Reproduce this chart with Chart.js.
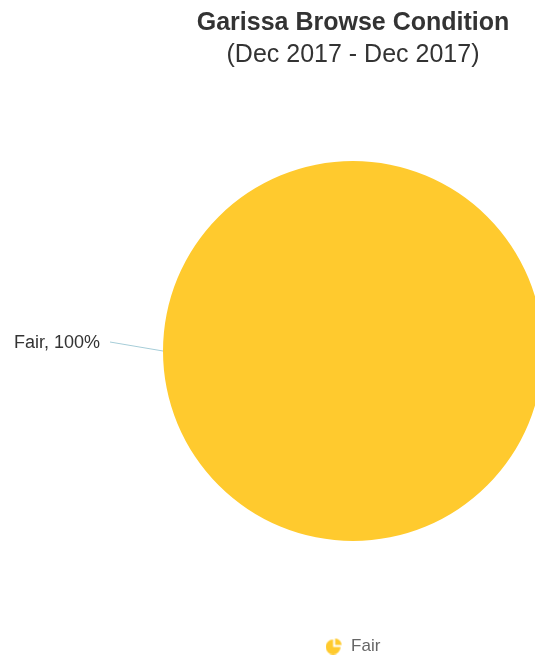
<!DOCTYPE html>
<html>
<head>
<meta charset="utf-8">
<script src="https://cdn.jsdelivr.net/npm/chart.js@4/dist/chart.umd.min.js"></script>
<style>
  html, body { margin: 0; padding: 0; background: #fff; overflow: hidden; }
  #wrap { width: 543px; height: 658px; position: relative; }
</style>
</head>
<body>
<div id="wrap"><canvas id="pie"></canvas></div>
<script>
var titleText = 'Garissa Browse Condition';
var subtitleText = '(Dec 2017 - Dec 2017)';
var categories = ['Fair'];
var values = [100];
var colors = ['#FFCA2E'];

Chart.defaults.font.family = '"Liberation Sans", Arial, Helvetica, sans-serif';

// little pie icon for the legend
function pieIcon(color) {
  var c = document.createElement('canvas');
  c.width = 17; c.height = 17;
  var g = c.getContext('2d');
  g.fillStyle = color;
  g.beginPath();
  g.moveTo(7.5, 9.5);
  g.arc(7.5, 9.5, 7.5, 0, Math.PI * 1.5);
  g.closePath();
  g.fill();
  g.beginPath();
  g.moveTo(9.5, 7.5);
  g.arc(9.5, 7.5, 6.5, -Math.PI / 2, 0);
  g.closePath();
  g.fill();
  return c;
}

var sliceLabels = {
  id: 'sliceLabels',
  afterDatasetsDraw: function(chart) {
    var ctx = chart.ctx;
    var meta = chart.getDatasetMeta(0);
    var total = values.reduce(function(a, b) { return a + b; }, 0);
    meta.data.forEach(function(arc, i) {
      var p = arc.getProps(['x', 'y', 'outerRadius']);
      var ex = p.x - p.outerRadius, ey = p.y;
      ctx.save();
      ctx.strokeStyle = '#a6cdd8';
      ctx.lineWidth = 1;
      ctx.beginPath();
      ctx.moveTo(ex, ey);
      ctx.lineTo(ex - 53, ey - 9);
      ctx.stroke();
      ctx.fillStyle = '#333';
      ctx.font = '18px "Liberation Sans", Arial, sans-serif';
      ctx.textAlign = 'right';
      ctx.textBaseline = 'middle';
      var pct = Math.round(values[i] / total * 100);
      ctx.fillText(categories[i] + ', ' + pct + '%', ex - 63, ey - 8);
      ctx.restore();
    });
  }
};

var config = {
  type: 'pie',
  data: {
    labels: categories,
    datasets: [{
      data: values,
      backgroundColor: colors,
      borderWidth: 0
    }]
  },
  options: {
    responsive: true,
    maintainAspectRatio: false,
    animation: false,
    layout: { padding: { left: 163, right: 0, top: 0, bottom: -6.5 } },
    plugins: {
      title: {
        display: true,
        text: titleText,
        color: '#333',
        font: { size: 25, weight: 'bold' },
        padding: { top: 8, bottom: 0 }
      },
      subtitle: {
        display: true,
        text: subtitleText,
        color: '#333',
        font: { size: 25 },
        padding: { top: 2, bottom: 2.5 }
      },
      legend: {
        position: 'bottom',
        labels: {
          usePointStyle: true,
          pointStyle: pieIcon(colors[0]),
          color: '#666',
          font: { size: 17 },
          padding: 8
        }
      },
      tooltip: { enabled: false }
    }
  },
  plugins: [sliceLabels]
};

var ctx = document.getElementById('pie');
var myChart = new Chart(ctx, config);
</script>
</body>
</html>
